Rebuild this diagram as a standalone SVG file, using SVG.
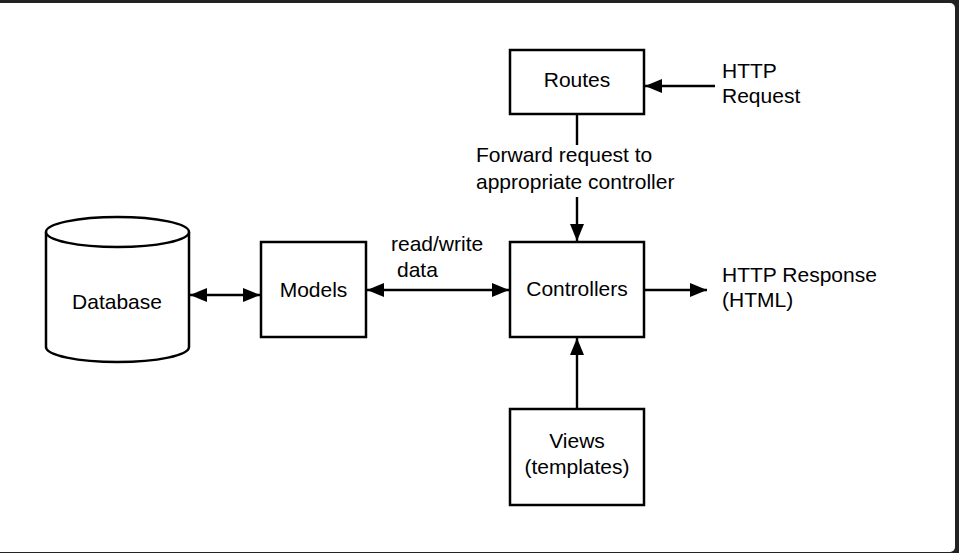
<svg xmlns="http://www.w3.org/2000/svg" width="959" height="553" viewBox="0 0 959 553">
<style>
.box{fill:#fff;stroke:#000;stroke-width:2.5}
.lbl{font-family:"Liberation Sans",Arial,sans-serif;font-size:21px;fill:#000}
.mid{text-anchor:middle}
.con{fill:none;stroke:#000;stroke-width:2.4}
</style>
<defs>
<marker id="ah" markerUnits="userSpaceOnUse" markerWidth="18" markerHeight="14" refX="17" refY="7" orient="auto-start-reverse">
<path d="M0,0 L17,7 L0,14 Z" fill="#000"/>
</marker>
</defs>
<rect x="0" y="0" width="959" height="553" fill="#222"/>
<rect x="-10" y="3" width="965" height="549" rx="5" fill="#fff"/>

<g id="connectors">
<path class="con" d="M715,86 H645" marker-end="url(#ah)"/>
<path class="con" d="M577,114 V145 M577,197 V241" marker-end="url(#ah)"/>
<path class="con" d="M190,295 H260" marker-start="url(#ah)" marker-end="url(#ah)"/>
<path class="con" d="M367,290 H509" marker-start="url(#ah)" marker-end="url(#ah)"/>
<path class="con" d="M644,290 H707" marker-end="url(#ah)"/>
<path class="con" d="M577,409 V338" marker-end="url(#ah)"/>
</g>

<g id="database">
<path class="box" d="M46,232 V347 A71.5,15 0 0 0 189,347 V232"/>
<ellipse class="box" cx="117.5" cy="232" rx="71.5" ry="15"/>
<text class="lbl mid" x="117" y="309">Database</text>
</g>

<g id="models">
<rect class="box" x="261" y="242" width="105" height="95"/>
<text class="lbl mid" x="313.5" y="297">Models</text>
</g>

<g id="routes">
<rect class="box" x="510" y="50" width="134" height="64"/>
<text class="lbl mid" x="577" y="87">Routes</text>
</g>

<g id="controllers">
<rect class="box" x="510" y="242" width="134" height="95"/>
<text class="lbl mid" x="577" y="296">Controllers</text>
</g>

<g id="views">
<rect class="box" x="510" y="409" width="134" height="96"/>
<text class="lbl mid" x="577" y="448">Views</text>
<text class="lbl mid" x="577" y="474">(templates)</text>
</g>

<g id="labels">
<text class="lbl" x="722" y="78">HTTP</text>
<text class="lbl" x="722" y="103">Request</text>
<text class="lbl" x="476" y="162">Forward request to</text>
<text class="lbl" x="476" y="189">appropriate controller</text>
<text class="lbl" x="391" y="251">read/write</text>
<text class="lbl" x="397" y="277">data</text>
<text class="lbl" x="722" y="282">HTTP Response</text>
<text class="lbl" x="722" y="307">(HTML)</text>
</g>
</svg>
